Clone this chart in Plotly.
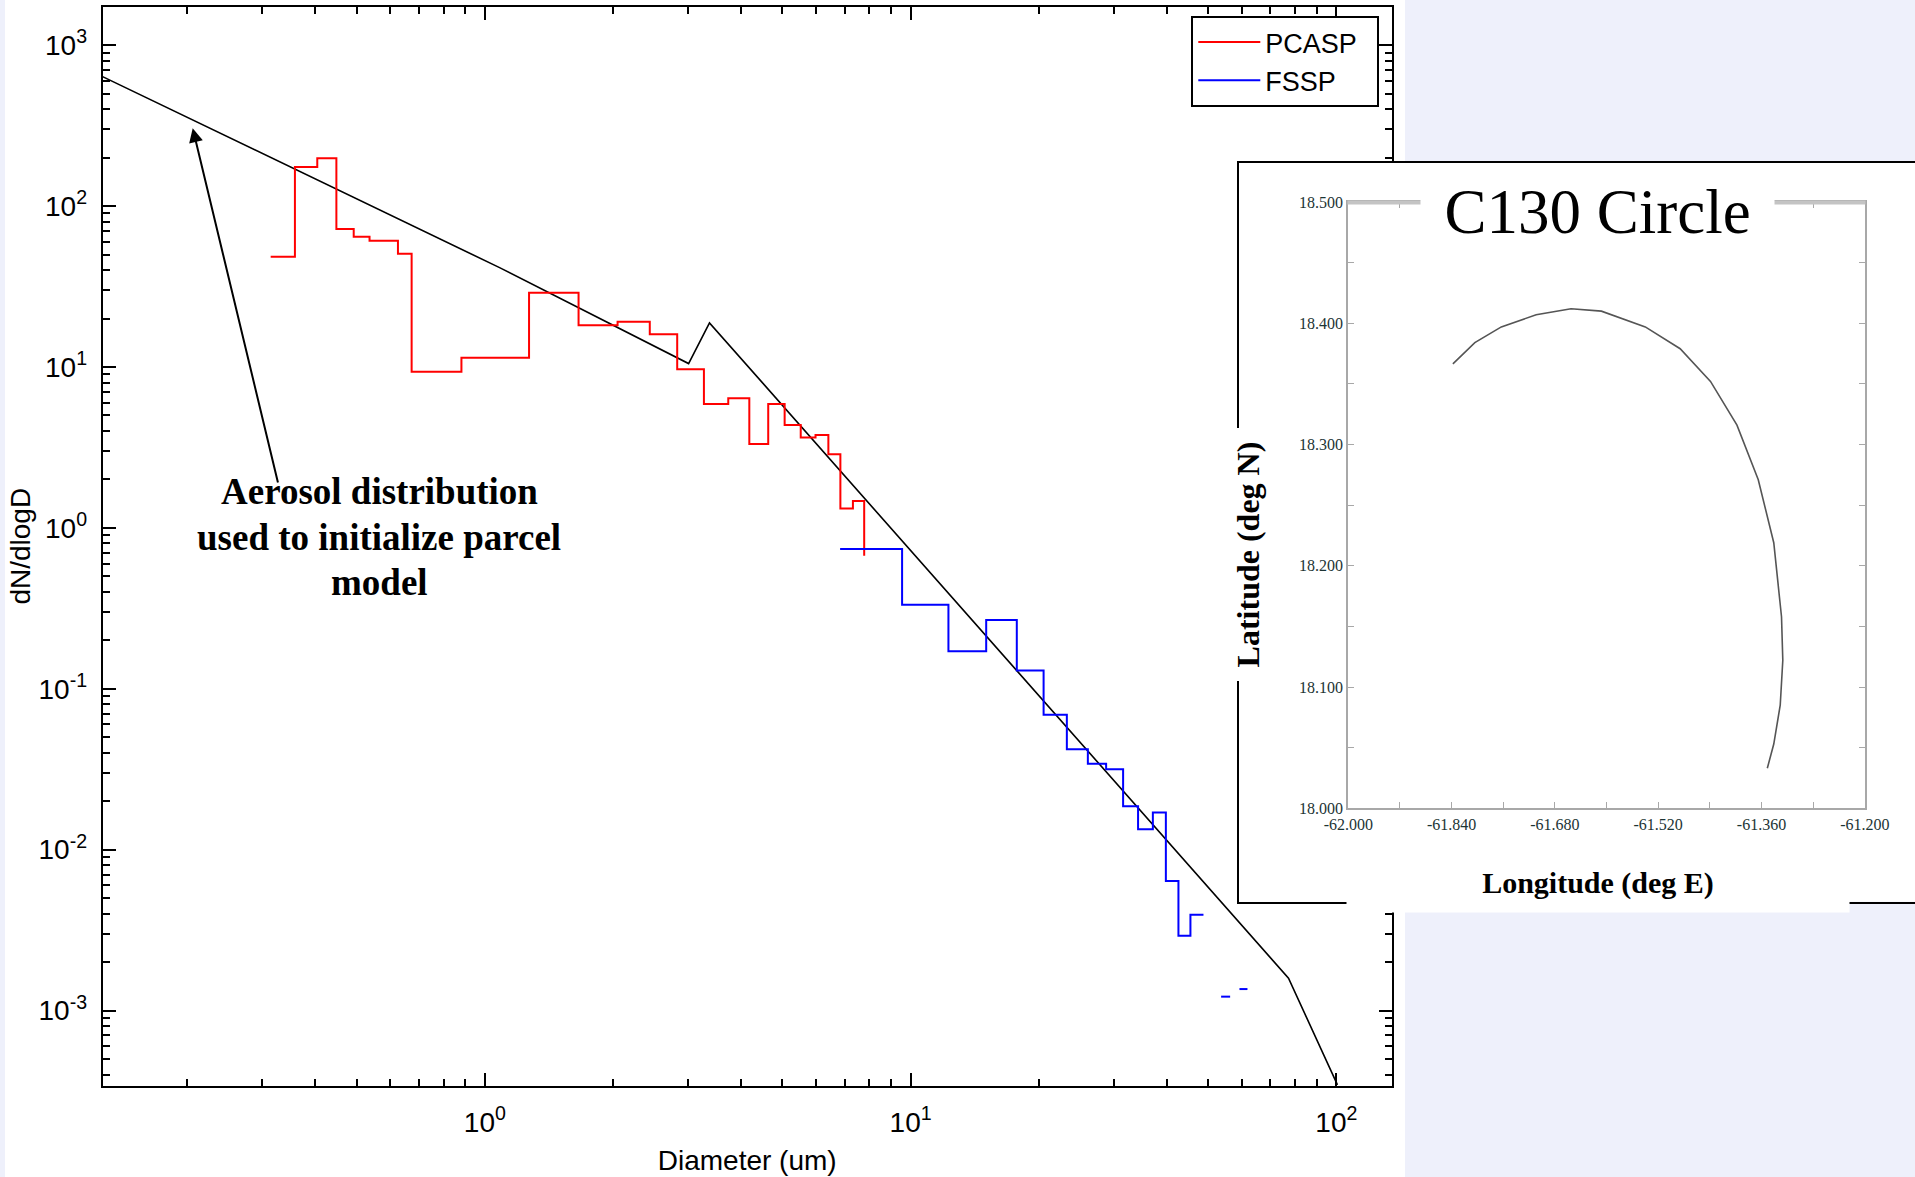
import plotly.graph_objects as go

# ---------------- data ----------------
# PCASP bin edges (um) and dN/dlogD values
pcasp_edges = [0.314, 0.358, 0.404, 0.448, 0.492, 0.536, 0.625, 0.673, 0.881, 1.27,
               1.66, 2.05, 2.44, 2.83, 3.27, 3.73, 4.18, 4.63, 5.06, 5.52,
               5.98, 6.41, 6.84, 7.32, 7.78]
pcasp_vals = [48.5, 175, 198, 72.1, 64.5, 60.9, 50.6, 9.35, 11.4, 28.9,
              18.2, 19.1, 16.0, 9.67, 5.89, 6.39, 3.32, 5.89, 4.36, 3.64,
              3.78, 2.87, 1.32, 1.47]
pcasp_tail = 0.67

# FSSP bin edges (um) and values (None = empty bin)
fssp_edges = [6.83, 9.55, 12.27, 15.05, 17.76, 20.53, 23.28, 26.08, 28.79, 31.56,
              34.22, 37.07, 39.77, 42.57, 45.42, 48.74, 53.62, 56.30, 59.21, 61.83]
fssp_vals = [0.740, 0.333, 0.171, 0.268, 0.130, 0.0689, 0.0421, 0.0342, 0.0316, 0.0186,
             0.0134, 0.0170, 0.00639, 0.00292, 0.00394, None, 0.00122, None, 0.00136]

# Aerosol distribution used to initialize the parcel model
model_d = [0.1265, 1.086, 3.01, 3.37, 77.2, 100.6]
model_n = [638, 41.3, 10.5, 18.8, 0.00159, 0.000345]

# C130 circle track
track_lon = [-61.838, -61.804, -61.763, -61.709, -61.655, -61.608, -61.540, -61.486,
             -61.439, -61.398, -61.365, -61.341, -61.329, -61.327, -61.331, -61.341, -61.351]
track_lat = [18.3665, 18.384, 18.397, 18.407, 18.412, 18.410, 18.397, 18.379,
             18.352, 18.316, 18.271, 18.219, 18.158, 18.122, 18.085, 18.053, 18.033]

y_tick_vals = [1e-3, 1e-2, 1e-1, 1e0, 1e1, 1e2, 1e3]
y_tick_text = ["10<sup>-3</sup>", "10<sup>-2</sup>", "10<sup>-1</sup>", "10<sup>0</sup>",
               "10<sup>1</sup>", "10<sup>2</sup>", "10<sup>3</sup>"]
x_tick_vals = [1e0, 1e1, 1e2]
x_tick_text = ["10<sup>0</sup>", "10<sup>1</sup>", "10<sup>2</sup>"]

lon_ticks = [-62.0, -61.84, -61.68, -61.52, -61.36, -61.2]
lon_text = ["-62.000", "-61.840", "-61.680", "-61.520", "-61.360", "-61.200"]
lon_minor = [-61.92, -61.76, -61.60, -61.44, -61.28]
lat_ticks = [18.0, 18.1, 18.2, 18.3, 18.4, 18.5]
lat_text = ["18.000", "18.100", "18.200", "18.300", "18.400", "18.500"]
lat_minor = [18.05, 18.15, 18.25, 18.35, 18.45]

note_lines = ["Aerosol distribution", "used to initialize parcel", "model"]

# ---------------- helpers ----------------
W, H = 1915, 1177
def px(x):
    return x / W
def py(y):
    return 1 - y / H

def step_path(edges, vals, tail=None):
    xs, ys = [], []
    for i, v in enumerate(vals):
        if v is None:
            if xs and xs[-1] is not None:
                xs.append(None); ys.append(None)
            continue
        xs += [edges[i], edges[i + 1]]
        ys += [v, v]
    if tail is not None:
        xs.append(edges[-1]); ys.append(tail)
    return xs, ys

minor_vals = [m * 10 ** e for e in range(-4, 4) for m in range(2, 10)]

fig = go.Figure()

fig.add_trace(go.Scatter(x=model_d, y=model_n, mode="lines", line=dict(color="black", width=1.6),
                         showlegend=False, hoverinfo="skip", xaxis="x", yaxis="y"))
rx, ry = step_path(pcasp_edges, pcasp_vals, pcasp_tail)
fig.add_trace(go.Scatter(x=rx, y=ry, mode="lines", name="PCASP\u00a0\u00a0",
                         line=dict(color="#ff0000", width=2), xaxis="x", yaxis="y"))
bx, by = step_path(fssp_edges, fssp_vals)
fig.add_trace(go.Scatter(x=bx, y=by, mode="lines", name="FSSP", connectgaps=False,
                         line=dict(color="#0000ff", width=2), xaxis="x", yaxis="y"))

# cover panel (white framed box) for the inset
fig.add_trace(go.Scatter(x=[None], y=[None], mode="lines", showlegend=False,
                         hoverinfo="skip", xaxis="x2", yaxis="y2"))
# inset track
fig.add_trace(go.Scatter(x=track_lon, y=track_lat, mode="lines", showlegend=False,
                         line=dict(color="#555555", width=1.6), xaxis="x3", yaxis="y3"))

sans = "Liberation Sans, Arial, sans-serif"
serif = "Liberation Serif, Times New Roman, serif"
inset_grey = "#a8a8a8"

note_y = [491, 537.5, 582]
annotations = [
    dict(text="<b>%s</b>" % t, xref="paper", yref="paper", x=px(379), y=py(yy),
         xanchor="center", yanchor="middle", showarrow=False,
         font=dict(family=serif, size=37, color="black"))
    for t, yy in zip(note_lines, note_y)
]
annotations += [
    dict(text="", xref="paper", yref="paper", x=px(192.7), y=py(128.2),
         ax=85.6, ay=355.8, showarrow=True, arrowhead=2, arrowsize=1.4,
         arrowwidth=2, arrowcolor="black", standoff=0, startstandoff=0),
    dict(text="C130 Circle", xref="paper", yref="paper", x=px(1597.5), y=py(212),
         xanchor="center", yanchor="middle", showarrow=False, width=351,
         bgcolor="white", font=dict(family=serif, size=63, color="black")),
    dict(text="<b>Latitude (deg N)</b>", xref="paper", yref="paper", x=px(1247.5), y=py(555),
         xanchor="center", yanchor="middle", showarrow=False, textangle=-90,
         width=250, height=40, bgcolor="white",
         font=dict(family=serif, size=32, color="black")),
    dict(text="<b>Longitude (deg E)</b>", xref="paper", yref="paper", x=px(1597.5), y=py(883),
         xanchor="center", yanchor="middle", showarrow=False,
         width=500, height=56, bgcolor="white",
         font=dict(family=serif, size=30, color="black")),
]

fig.update_layout(
    width=W, height=H,
    margin=dict(l=0, r=0, t=0, b=0, autoexpand=False),
    paper_bgcolor="#eef0fb",
    plot_bgcolor="white",
    font=dict(family=sans, size=28, color="black"),
    xaxis=dict(
        type="log", range=[-0.8976, 2.130], domain=[px(102.7), px(1391.7)], anchor="y",
        automargin=False,
        showline=True, linecolor="black", linewidth=2, mirror="ticks",
        ticks="inside", ticklen=13, tickwidth=1.5, tickcolor="black",
        tickmode="array", tickvals=x_tick_vals, ticktext=x_tick_text,
        tickfont=dict(size=28), ticklabelstandoff=10,
        minor=dict(ticks="inside", ticklen=7, tickwidth=1.5, tickcolor="black",
                   tickmode="array", tickvals=minor_vals, showgrid=False),
        showgrid=False, zeroline=False,
        title=dict(text="Diameter (um)", font=dict(size=28), standoff=14),
    ),
    yaxis=dict(
        type="log", range=[-3.469, 3.2405], domain=[py(1086), py(6.5)], anchor="x",
        automargin=False,
        showline=True, linecolor="black", linewidth=2, mirror="ticks",
        ticks="inside", ticklen=13, tickwidth=1.5, tickcolor="black",
        tickmode="array", tickvals=y_tick_vals, ticktext=y_tick_text,
        tickfont=dict(size=28), ticklabelstandoff=8,
        minor=dict(ticks="inside", ticklen=7, tickwidth=1.5, tickcolor="black",
                   tickmode="array", tickvals=minor_vals, showgrid=False),
        showgrid=False, zeroline=False,
        title=dict(text="dN/dlogD", font=dict(size=28), standoff=0),
    ),
    xaxis2=dict(domain=[px(1238.7), 1.0], anchor="y2", range=[0, 1], automargin=False,
                showline=True, linecolor="black", linewidth=2, mirror=True,
                showticklabels=False, ticks="", showgrid=False, zeroline=False, fixedrange=True),
    yaxis2=dict(domain=[py(901.7), py(162.7)], anchor="x2", range=[0, 1], automargin=False,
                showline=True, linecolor="black", linewidth=2, mirror=False,
                showticklabels=False, ticks="", showgrid=False, zeroline=False, fixedrange=True),
    xaxis3=dict(domain=[px(1348.3), px(1864.8)], anchor="y3", range=[-62.0, -61.2],
                automargin=False,
                showline=True, linecolor=inset_grey, linewidth=2, mirror="ticks",
                ticks="inside", ticklen=6, tickwidth=1, tickcolor=inset_grey,
                tickmode="array", tickvals=lon_ticks, ticktext=lon_text,
                minor=dict(ticks="inside", ticklen=6, tickwidth=1, tickcolor=inset_grey,
                           tickmode="array", tickvals=lon_minor, showgrid=False),
                tickfont=dict(family=serif, size=16, color="#1c3434"),
                showgrid=False, zeroline=False),
    yaxis3=dict(domain=[py(808.3), py(202)], anchor="x3", range=[18.0, 18.5],
                automargin=False,
                showline=True, linecolor=inset_grey, linewidth=2, mirror="ticks",
                ticks="inside", ticklen=6, tickwidth=1, tickcolor=inset_grey,
                tickmode="array", tickvals=lat_ticks, ticktext=lat_text,
                minor=dict(ticks="inside", ticklen=6, tickwidth=1, tickcolor=inset_grey,
                           tickmode="array", tickvals=lat_minor, showgrid=False),
                tickfont=dict(family=serif, size=16, color="#1c3434"),
                showgrid=False, zeroline=False),
    legend=dict(x=px(1379.3), y=py(16), xanchor="right", yanchor="top",
                bgcolor="white", bordercolor="black", borderwidth=2,
                font=dict(family=sans, size=27), tracegroupgap=0, itemwidth=62),
    shapes=[
        dict(type="rect", xref="paper", yref="paper", x0=px(5), x1=px(1405), y0=0, y1=1,
             fillcolor="white", line=dict(width=0), layer="below"),
        dict(type="line", xref="paper", yref="paper", x0=px(1347.5), x1=px(1865.5),
             y0=py(202.5), y1=py(202.5), line=dict(color="#c4c4c4", width=4), layer="above"),
    ],
    annotations=annotations,
)

fig.write_html("out.html", config={"displayModeBar": False},
               post_script="document.body.style.margin='0';document.body.style.overflow='hidden';")
